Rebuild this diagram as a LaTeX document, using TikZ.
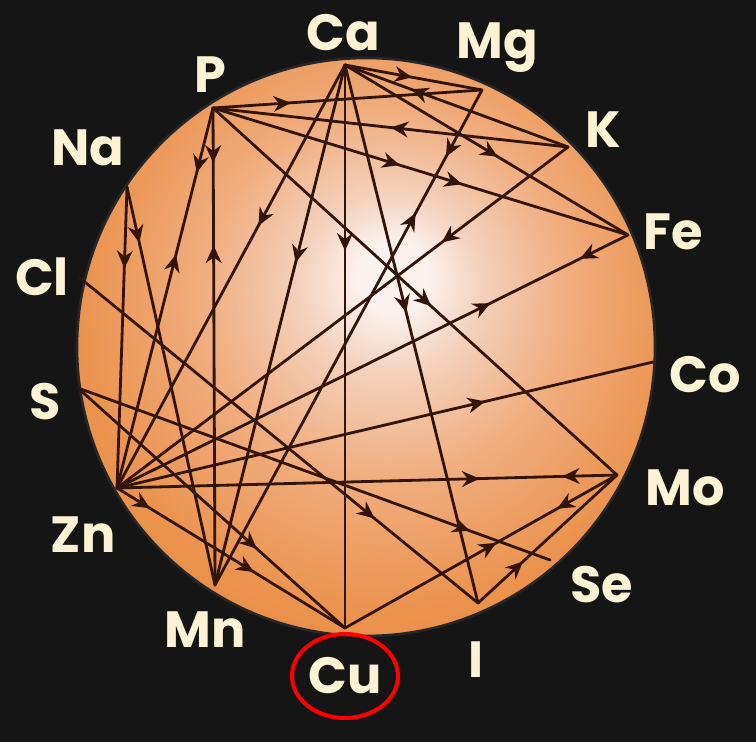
\documentclass[tikz,border=0pt]{standalone}
\usepackage{fontspec}
\setmainfont{Poppins}
\usetikzlibrary{arrows.meta,decorations.markings}
\definecolor{bg}{HTML}{151515}
\definecolor{wire}{HTML}{321508}
\definecolor{lab}{HTML}{FBF3D3}
\definecolor{orbA}{HTML}{FBF2EE}
\definecolor{orbB}{HTML}{F4D0BA}
\definecolor{orbC}{HTML}{F0AD7E}
\definecolor{orbD}{HTML}{EB934E}
\definecolor{orbE}{HTML}{E5823C}
\definecolor{orbF}{HTML}{DC722E}
\pgfdeclareradialshading{sphere}{\pgfqpoint{2.5bp}{6.5bp}}{color(0bp)=(orbA); color(3bp)=(orbA); color(8bp)=(orbB); color(16bp)=(orbC); color(26bp)=(orbD); color(36bp)=(orbE); color(50bp)=(orbF)}
\begin{document}
\begin{tikzpicture}[x=0.02cm, y=-0.02cm, line join=round, line cap=round,
  wire/.style={draw=wire, line width=1.6pt},
  fwd/.style={postaction={decorate,decoration={markings,mark=at position #1 with {\arrow{Stealth[length=10pt,width=9pt]}}}}},
  bwd/.style={postaction={decorate,decoration={markings,mark=at position #1 with {\arrow{Stealth[length=10pt,width=9pt,reversed]}}}}},
  elem/.style={text=lab, font=\fontsize{29}{31}\selectfont\bfseries, inner sep=0pt}]
				\useasboundingbox (0,0) rectangle (756,742);
				\fill[bg] (0,0) rectangle (756,742);
				
				\shade[shading=sphere] (366,347) circle (289);
				\draw[black!85, line width=1.5pt] (366,347) circle (289);
				
				\coordinate (Ca) at (345,65);
				\coordinate (Mg) at (482,90);
				\coordinate (K) at (568,147);
				\coordinate (Fe) at (628,235);
				\coordinate (Co) at (653,362);
				\coordinate (Mo) at (617,475);
				\coordinate (Se) at (550,560);
				\coordinate (I) at (478,603);
				\coordinate (Cu) at (345,628);
				\coordinate (Mn) at (215,585);
				\coordinate (Zn) at (117,488);
				\coordinate (S) at (78,388);
				\coordinate (Cl) at (80,278);
				\coordinate (Na) at (127,187);
				\coordinate (P) at (213,108);
				
				% lines from the top
				\draw[wire, fwd=0.49] (Ca) -- (Mg);
				\draw[wire, bwd=0.37] (Ca) -- (K);
				\draw[wire, fwd=0.54] (Ca) -- (Fe);
				\draw[wire, fwd=0.29] (P) -- (Mg);
				\draw[wire, bwd=0.55] (P) -- (K);
				\draw[wire, fwd=0.45, fwd=0.6] (P) -- (Fe);
				\draw[wire, fwd=0.54] (P) -- (Mo);
				\draw[wire, fwd=0.135, bwd=0.28] (Mg) -- (Mn);
				\draw[wire, fwd=0.28] (K) -- (Zn);
				\draw[wire, fwd=0.094, bwd=0.3] (Fe) -- (Zn);
				\draw[wire, bwd=0.345] (Co) -- (Zn);
				
				% Ca and P downwards
				\draw[wire, fwd=0.46] (Ca) -- (I);
				\draw[wire, fwd=0.33] (Ca) -- (Cu);
				\draw[wire, fwd=0.38] (Ca) -- (Mn);
				\draw[wire, fwd=0.38] (Ca) -- (Zn);
				\draw[wire, fwd=0.115, bwd=0.325] (P) -- (Mn);
				\draw[wire, fwd=0.17, bwd=0.43] (P) -- (Zn);
				\draw[wire, fwd=0.27] (Na) -- (Zn);
				\draw[wire, fwd=0.14] (Na) -- (Mn);
				
				% Mo and the lower half
				\draw[wire, fwd=0.11, bwd=0.31] (Mo) -- (Zn);
				\draw[wire, fwd=0.22, bwd=0.5] (Mo) -- (Cu);
				\draw[wire, bwd=0.77] (Mo) -- (I);
				\draw[wire, fwd=0.74] (Cl) -- (I);
				\draw[wire, fwd=0.67] (S) -- (Cu);
				\draw[wire, fwd=0.83] (S) -- (Se);
				\draw[wire, fwd=0.145, fwd=0.6] (Zn) -- (Cu);
				
				\node[elem] (tCa) at (343,33) {Ca};
				\node[elem] (tMg) at (497,48) {Mg};
				\node[elem] (tP) at (210,75) {P};
				\node[elem] (tK) at (603,130) {K};
				\node[elem] (tNa) at (88,148) {Na};
				\node[elem] (tFe) at (673,232) {Fe};
				\node[elem] (tCl) at (42,277) {Cl};
				\node[elem] (tCo) at (705,375) {Co};
				\node[elem] (tS) at (45,402) {S};
				\node[elem] (tMo) at (685,488) {Mo};
				\node[elem] (tZn) at (83,535) {Zn};
				\node[elem] (tSe) at (602,585) {Se};
				\node[elem] (tMn) at (205,630) {Mn};
				\node[elem] (tI) at (476,660) {I};
				\node[elem] (tCu) at (345,676) {Cu};
				
				\draw[red, line width=2.3pt] (tCu) ellipse (53 and 42);
\end{tikzpicture}
\end{document}
